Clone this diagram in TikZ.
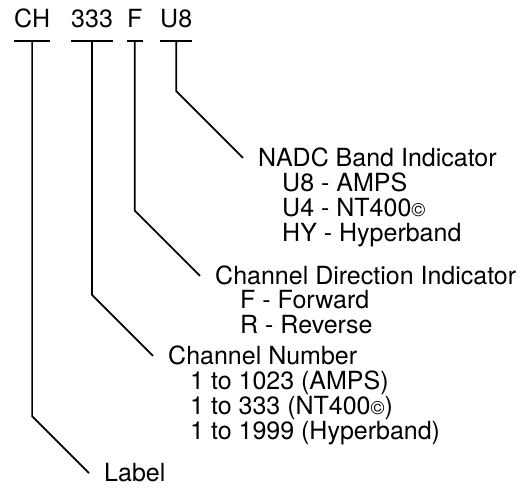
\documentclass[tikz,border=0pt]{standalone}
\usepackage{fontspec}
\setmainfont{TeX Gyre Heros}
\usetikzlibrary{calc}
\tikzset{
  code/.style={anchor=base west,inner sep=0pt},
  head/.style={anchor=base west,inner xsep=15pt,inner ysep=0pt},
  items/.style={anchor=base west,inner sep=0pt},
  lead/.style={line width=1.7pt}
}
\newcommand{\cprmark}{{\fontsize{19}{19}\selectfont\textcopyright}}

\begin{document}
\begin{tikzpicture}[x=1pt,y=1pt,font=\fontsize{25}{25}\selectfont]
  \useasboundingbox (0,0) rectangle (531,489);

  % the channel label
  \node[code] (ch) at (14,461) {CH};
  \node[code] (num) at (71,461) {333};
  \node[code] (dir) at (127,461) {F};
  \node[code] (band) at (160,461) {U8};

  \draw[lead] ([yshift=-13pt]ch.base west) -- ([yshift=-13pt]ch.base east);
  \draw[lead] ([yshift=-13pt]num.base west) -- ([yshift=-13pt]num.base east);
  \draw[lead] ([yshift=-13pt]dir.base west) -- ([yshift=-13pt]dir.base east);
  \draw[lead] ([yshift=-13pt]band.base west) -- ([yshift=-13pt]band.base east);

  % what each part means
  \node[head] (nadc) at (243,322) {NADC Band Indicator};
  \node[items] (nadclist) at (282,297)
    {\vtop{\hbox{U8 - AMPS}\hbox{U4 - NT400\cprmark}\hbox{HY - Hyperband}}};

  \node[head] (chdir) at (200,204) {Channel Direction Indicator};
  \node[items] (chdirlist) at (240,180)
    {\vtop{\hbox{F - Forward}\hbox{R - Reverse}}};

  \node[head] (chnum) at (153,124) {Channel Number};
  \node[items] (chnumlist) at (190,99)
    {\vtop{\hbox{1 to 1023 (AMPS)}\hbox{1 to 333 (NT400\cprmark)}\hbox{1 to 1999 (Hyperband)}}};

  \node[head] (lbl) at (89,7) {Label};

  % leaders, down then at 45 degrees
  \draw[lead] let \p1=([yshift=-13pt]band.base), \p2=(nadc.west) in
    (\p1) -- (\x1,{\y2+\x2-\x1}) -- (\p2);
  \draw[lead] let \p1=([yshift=-13pt]dir.base), \p2=(chdir.west) in
    (\p1) -- (\x1,{\y2+\x2-\x1}) -- (\p2);
  \draw[lead] let \p1=([yshift=-13pt]num.base), \p2=(chnum.west) in
    (\p1) -- (\x1,{\y2+\x2-\x1}) -- (\p2);
  \draw[lead] let \p1=([yshift=-13pt]ch.base), \p2=(lbl.west) in
    (\p1) -- (\x1,{\y2+\x2-\x1}) -- (\p2);
\end{tikzpicture}
\end{document}
